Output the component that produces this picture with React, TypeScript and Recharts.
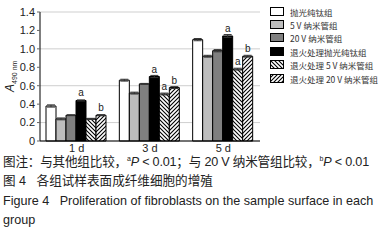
import { Bar, BarChart, CartesianGrid, ErrorBar, LabelList, XAxis, YAxis } from "recharts";

const days = ["1 d", "3 d", "5 d"];
const seriesNames = [
  "抛光纯钛组",
  "5 V 纳米管组",
  "20 V 纳米管组",
  "退火处理抛光纯钛组",
  "退火处理 5 V 纳米管组",
  "退火处理 20 V 纳米管组",
];
const polished = [0.38, 0.66, 1.1];
const tube5 = [0.24, 0.52, 0.92];
const tube20 = [0.28, 0.62, 0.98];
const annealPolished = [0.44, 0.7, 1.14];
const annealTube5 = [0.24, 0.51, 0.78];
const annealTube20 = [0.28, 0.58, 0.92];
const errors = [
  [0.012, 0.01, 0.012],
  [0.01, 0.01, 0.01],
  [0.005, 0.005, 0.012],
  [0.006, 0.012, 0.015],
  [0.006, 0.01, 0.01],
  [0.006, 0.01, 0.01],
];
const marks = [
  ["", "", ""],
  ["", "", ""],
  ["", "", ""],
  ["a", "a", "a"],
  ["", "a", "a"],
  ["b", "b", "b"],
];
const yTicks = [0, 0.2, 0.4, 0.6, 0.8, 1.0, 1.2, 1.4];

const values = [polished, tube5, tube20, annealPolished, annealTube5, annealTube20];
const fills = ["#ffffff", "#bdbdbd", "#7f7f7f", "#000000", "url(#back)", "url(#fwd)"];

const data = days.map((day, i) => {
  const row: Record<string, string | number> = { day };
  values.forEach((v, s) => {
    row[`s${s}`] = v[i];
    row[`e${s}`] = errors[s][i];
    row[`m${s}`] = marks[s][i];
  });
  return row;
});

function Patterns() {
  return (
    <defs>
      <pattern id="back" width="4" height="4" patternUnits="userSpaceOnUse">
        <rect width="4" height="4" fill="#fff" />
        <path d="M-1,-1 L5,5 M-1,3 L1,5 M3,-1 L5,1" stroke="#000" strokeWidth={1.1} />
      </pattern>
      <pattern id="fwd" width="4" height="4" patternUnits="userSpaceOnUse">
        <rect width="4" height="4" fill="#fff" />
        <path d="M-1,5 L5,-1 M-1,1 L1,-1 M3,5 L5,3" stroke="#000" strokeWidth={1.1} />
      </pattern>
    </defs>
  );
}

function LegendBox() {
  return (
    <div
      style={{
        position: "absolute",
        left: 270,
        top: 5,
        fontFamily: "'Noto Sans CJK SC', sans-serif",
        fontSize: 8.5,
        color: "#333",
      }}
    >
      {seriesNames.map((name, s) => (
        <div key={name} style={{ display: "flex", alignItems: "center", height: 13.4 }}>
          <svg width={14} height={10} style={{ marginRight: 6 }}>
            <rect x={0.5} y={0.5} width={13} height={8} fill={fills[s]} stroke="#000" />
          </svg>
          <span>{name}</span>
        </div>
      ))}
    </div>
  );
}

function YLabel() {
  return (
    <text transform="translate(14,92) rotate(-90)" fontFamily="Liberation Sans, Arial" fill="#222">
      <tspan fontStyle="italic" fontSize={12}>A</tspan>
      <tspan fontSize={7} dy={3}>490 nm</tspan>
    </text>
  );
}

export default function App() {
  return (
    <div style={{ position: "absolute", left: 0, top: 0, width: 388, height: 243, background: "#fff" }}>
      <svg width={0} height={0} style={{ position: "absolute" }}>
        <Patterns />
      </svg>
      <BarChart
        width={388}
        height={160}
        data={data}
        margin={{ top: 12, right: 128, bottom: 0, left: 0 }}
        barCategoryGap={6}
        barGap={0}
      >
        <CartesianGrid vertical={false} stroke="#cfcfcf" />
        <XAxis
          dataKey="day"
          axisLine={{ stroke: "#000" }}
          tickLine={false}
          tickSize={1}
          height={19}
          tick={{ fontSize: 11, fill: "#222", fontFamily: "Liberation Sans, Arial" }}
        />
        <YAxis
          domain={[0, 1.4]}
          ticks={yTicks}
          width={40}
          axisLine={{ stroke: "#000" }}
          tickSize={3}
          tickFormatter={(v) => (v === 0 ? "0" : Number(v).toFixed(1))}
          tick={{ fontSize: 11, fill: "#222", fontFamily: "Liberation Sans, Arial" }}
        />
        <YLabel />
        {seriesNames.map((name, s) => (
          <Bar
            key={name}
            dataKey={`s${s}`}
            name={name}
            fill={fills[s]}
            stroke="#000"
            strokeWidth={1}
            isAnimationActive={false}
          >
            <ErrorBar dataKey={`e${s}`} width={4} stroke="#333" strokeWidth={1} direction="y" />
            <LabelList
              dataKey={`m${s}`}
              position="top"
              offset={4}
              style={{ fontSize: 10, fill: "#222", fontFamily: "Liberation Sans, Arial" }}
            />
          </Bar>
        ))}
      </BarChart>
      <LegendBox />
      <div
        style={{
          position: "absolute",
          left: 3,
          top: 153,
          width: 386,
          fontFamily: "'Liberation Sans', 'Noto Sans CJK SC', sans-serif",
          fontSize: 12.6,
          lineHeight: "19.3px",
          color: "#222",
        }}
      >
        <div style={{ whiteSpace: "nowrap", letterSpacing: -0.2 }}>
          图注：与其他组比较，<sup style={{ fontSize: 7, lineHeight: 0 }}>a</sup>
          <i>P</i> &lt; 0.01；与 20 V 纳米管组比较，<sup style={{ fontSize: 7, lineHeight: 0 }}>b</sup>
          <i>P</i> &lt; 0.01
        </div>
        <div>图 4&nbsp;&nbsp;&nbsp;各组试样表面成纤维细胞的增殖</div>
        <div>Figure 4&nbsp;&nbsp;&nbsp;Proliferation of fibroblasts on the sample surface in each group</div>
      </div>
    </div>
  );
}
